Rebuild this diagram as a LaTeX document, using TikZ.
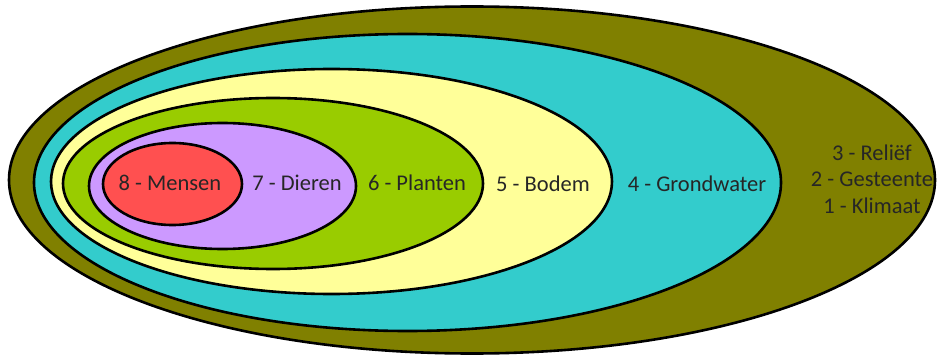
\documentclass[tikz,border=0pt]{standalone}
\usepackage{fontspec}
\setmainfont{Carlito}
\usetikzlibrary{shapes.geometric}

\definecolor{olijf}{HTML}{808000}
\definecolor{turkoois}{HTML}{33CCCC}
\definecolor{lichtgeel}{HTML}{FFFF99}
\definecolor{grasgroen}{HTML}{99CC00}
\definecolor{lila}{HTML}{CC99FF}
\definecolor{zalm}{HTML}{FF5050}

\begin{document}
\begin{tikzpicture}[
    x=1pt, y=-1pt,
    laag/.style={ellipse, draw=black, line width=2.6pt, inner sep=0pt},
    lab/.style={font=\fontsize{22.5}{26.5}\selectfont, text=black!85,
                inner sep=0pt, align=center},
  ]
  \useasboundingbox (0,0) rectangle (939,358);
  % ---- nested layers, outside in ----
  \node[laag, fill=olijf,     minimum width=926pt, minimum height=347pt] (klimaat)    at (472,180)   {};
  \node[laag, fill=turkoois,  minimum width=747pt, minimum height=297pt] (grondwater) at (407.5,182.5) {};
  \node[laag, fill=lichtgeel, minimum width=561pt, minimum height=225pt] (bodem)      at (331.5,181.5) {};
  \node[laag, fill=grasgroen, minimum width=420pt, minimum height=171pt] (planten)    at (273,183.5) {};
  \node[laag, fill=lila,      minimum width=267pt, minimum height=126pt] (dieren)     at (222.5,186) {};
  \node[laag, fill=zalm,      minimum width=139pt, minimum height=82pt]  (mensen)     at (172.5,184) {};
  % ---- labels ----
  \node[lab] (tmensen)     at (170,183) {8 - Mensen};
  \node[lab] (tdieren)     at (297,183) {7 - Dieren};
  \node[lab] (tplanten)    at (417,183) {6 - Planten};
  \node[lab] (tbodem)      at (543,184) {5 - Bodem};
  \node[lab] (tgrondwater) at (697,184) {4 - Grondwater};
  \node[lab] (tklimaat)    at (872,179) {3 - Reliëf\\2 - Gesteente\\1 - Klimaat};
\end{tikzpicture}
\end{document}
